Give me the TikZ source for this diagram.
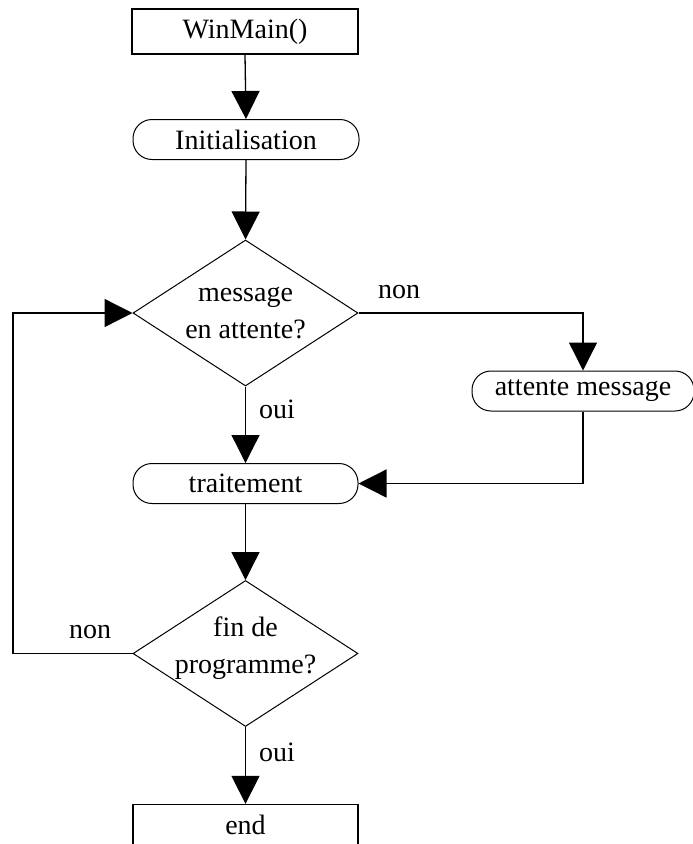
\documentclass[tikz,border=0pt]{standalone}
\usepackage{fontspec}
\setmainfont{Liberation Serif}
\usetikzlibrary{arrows.meta,shapes.geometric}
\begin{document}
\begin{tikzpicture}[x=1pt,y=-1pt,
  every node/.style={font=\fontsize{28}{37}\selectfont, inner sep=0pt},
  boxnode/.style={draw, line width=1.3pt, minimum width=226pt, minimum height=45pt},
  pill/.style={draw, line width=1pt, rounded corners=19pt, minimum height=40pt},
  decision/.style={draw, diamond, line width=1pt, aspect=1.54, minimum width=225pt, minimum height=146pt, align=center},
  arr/.style={line width=1.3pt, -{Triangle[width=28pt,length=28pt]}},
  ln/.style={line width=1.3pt}
]
\useasboundingbox (0,0) rectangle (693,844);
\clip (0,0) rectangle (693,844);
\fill[white] (0,0) rectangle (693,844);

\node[boxnode] (win) at (245,31.5) {WinMain()};
\node[pill, minimum width=226pt] (init) at (246,139.5) {Initialisation};
\node[decision] (d1) at (245.5,313) {message\\en attente?};
\node[pill, minimum width=222pt] (att) at (583,391) {attente message};
\node[pill, minimum width=225pt] (trait) at (245.5,483.5) {traitement};
\node[decision] (d2) at (245.5,653.5) {\raisebox{0pt}[0pt][0pt]{\begin{tabular}{@{}c@{}}fin de\\programme?\end{tabular}}};
\node[boxnode, minimum width=225pt] (end) at (245.5,827) {\raisebox{5pt}{end}};

\draw[arr] (win.south) -- (init.north);
\draw[arr] (init.south) -- (d1.north);
\draw[arr] (d1.east) -| (att.north);
\node (non1) at (399,292) {non};
\draw[arr] (d1.south) -- (trait.north);
\node (oui1) at (277,409) {oui};
\draw[arr] (att.south) |- (trait.east);
\draw[arr] (trait.south) -- (d2.north);
\coordinate (lc) at (13,653.5);
\draw[arr] (d2.west) -- (lc) |- (d1.west);
\node (non2) at (90,632) {non};
\draw[arr] (d2.south) -- (end.north);
\node (oui2) at (277,752) {oui};
\end{tikzpicture}
\end{document}
